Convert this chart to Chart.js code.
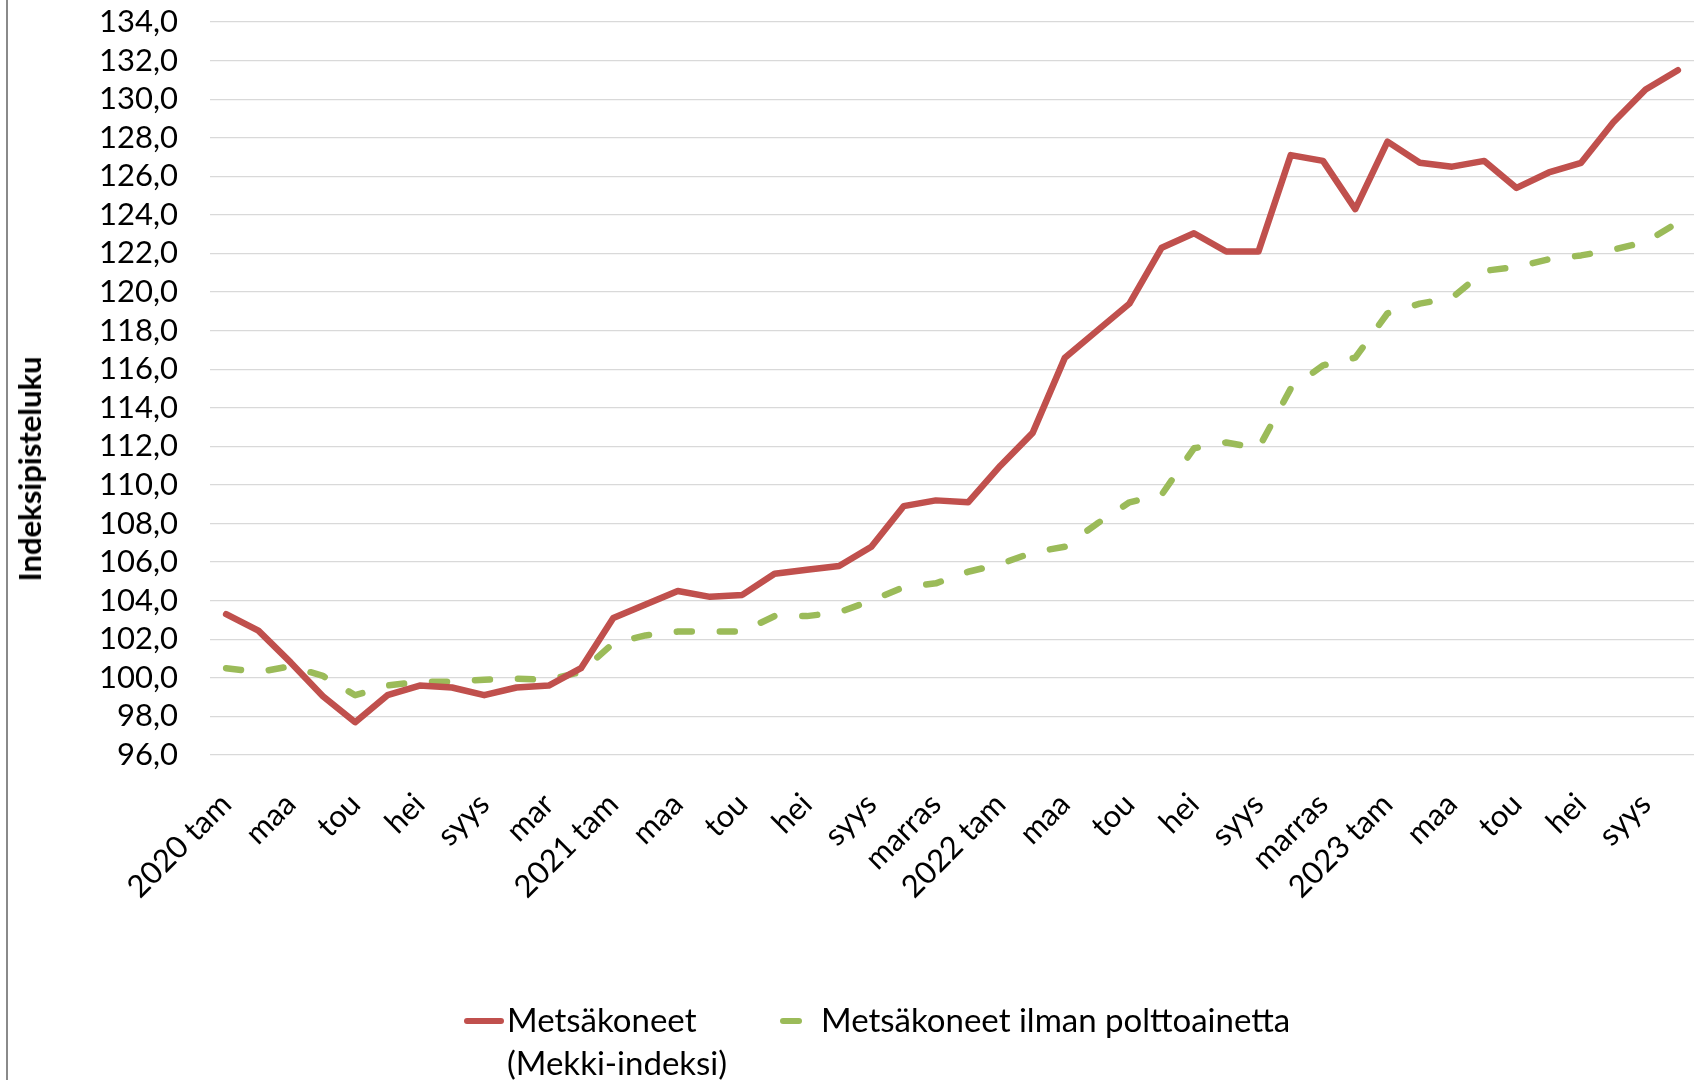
<!DOCTYPE html>
<html>
<head>
<meta charset="utf-8">
<script src="https://cdn.jsdelivr.net/npm/chart.js@4.4.1/dist/chart.umd.min.js"></script>
<style>
  html, body { margin: 0; padding: 0; background: #fff; }
  #wrap { position: relative; width: 1701px; height: 1080px; overflow: hidden; background: #fff; font-family: Lato, "Open Sans", sans-serif; }
  #c { position: absolute; left: 0; top: 0; }
  #border { position: absolute; left: 6px; top: 0; width: 1.5px; height: 1080px; background: #8a8a8a; }
  #ytitle { position: absolute; left: 29px; top: 469px; transform: translate(-50%, -50%) rotate(-90deg); font-weight: bold; font-size: 31px; color: #000; white-space: nowrap; }
  .leg { position: absolute; font-size: 33px; color: #000; line-height: 43px; white-space: nowrap; }
  .mk { position: absolute; height: 6px; border-radius: 3px; }
</style>
</head>
<body>
<div id="wrap">
  <canvas id="c" width="1701" height="1080"></canvas>
  <div id="border"></div>
  <div id="ytitle">Indeksipisteluku</div>
  <div class="mk" id="mk1" style="left:464px; top:1018px; width:40px; background:#C0504D;"></div>
  <div class="leg" id="lg1" style="left:507px; top:998px;">Metsäkoneet<br>(Mekki-indeksi)</div>
  <div class="mk" id="mk2" style="left:780px; top:1018px; width:22px; background:#9BBB59;"></div>
  <div class="leg" id="lg2" style="left:821px; top:998px;">Metsäkoneet ilman polttoainetta</div>
</div>
<script>
const categories = [
  '2020 tam','hel','maa','huh','tou','kes','hei','elo','syys','loka','mar','joulu',
  '2021 tam','hel','maa','huh','tou','kes','hei','elo','syys','loka','marras','joulu',
  '2022 tam','hel','maa','huh','tou','kes','hei','elo','syys','loka','marras','joulu',
  '2023 tam','hel','maa','huh','tou','kes','hei','elo','syys','loka'
];
const seriesNames = ['Metsäkoneet (Mekki-indeksi)', 'Metsäkoneet ilman polttoainetta'];
const mekki = [
  103.3, 102.45, 100.8, 99.05, 97.7, 99.1, 99.6, 99.5, 99.1, 99.5, 99.6, 100.5,
  103.1, 103.8, 104.5, 104.2, 104.3, 105.4, 105.6, 105.8, 106.8, 108.9, 109.2, 109.1,
  111.0, 112.7, 116.6, 118.0, 119.4, 122.3, 123.05, 122.1, 122.1, 127.1, 126.8, 124.3,
  127.8, 126.7, 126.5, 126.8, 125.4, 126.2, 126.7, 128.8, 130.5, 131.5
];
const ilmanPolttoainetta = [
  100.5, 100.3, 100.6, 100.1, 99.1, 99.6, 99.8, 99.8, 99.9, 99.95, 99.9, 100.3,
  101.8, 102.2, 102.4, 102.4, 102.4, 103.2, 103.2, 103.4, 104.0, 104.7, 104.9, 105.5,
  105.9, 106.5, 106.8, 108.0, 109.1, 109.5, 111.9, 112.2, 111.9, 115.0, 116.2, 116.6,
  118.9, 119.4, 119.7, 121.1, 121.3, 121.7, 121.9, 122.2, 122.6, 123.6
];
const yMin = 96, yMax = 134, yStep = 2;

const FONT = 'Lato, "Open Sans", sans-serif';

new Chart(document.getElementById('c'), {
  type: 'line',
  data: {
    labels: categories,
    datasets: [
      {
        label: seriesNames[0],
        data: mekki,
        borderColor: '#C0504D',
        backgroundColor: '#C0504D',
        borderWidth: 6.5,
        pointRadius: 0,
        tension: 0,
        borderCapStyle: 'round',
        borderJoinStyle: 'round'
      },
      {
        label: seriesNames[1],
        data: ilmanPolttoainetta,
        borderColor: '#9BBB59',
        backgroundColor: '#9BBB59',
        borderWidth: 6.5,
        borderDash: [15, 28],
        pointRadius: 0,
        tension: 0,
        borderCapStyle: 'round',
        borderJoinStyle: 'round'
      }
    ]
  },
  options: {
    responsive: false,
    animation: false,
    devicePixelRatio: 1,
    layout: { padding: { left: 0, right: 7, top: 22, bottom: 0 } },
    plugins: { legend: { display: false }, tooltip: { enabled: false } },
    scales: {
      x: {
        offset: true,
        grid: { display: false, drawTicks: false },
        border: { display: false },
        ticks: {
          autoSkip: false,
          maxRotation: 45,
          minRotation: 45,
          padding: 31,
          color: '#000',
          font: { family: FONT, size: 31 },
          callback: function(value, index) { return index % 2 === 0 ? this.getLabelForValue(value) : ''; }
        },
        afterFit: function(scale) { scale.height = 325; scale.paddingLeft = 0; scale.paddingRight = 0; }
      },
      y: {
        min: yMin,
        max: yMax,
        grid: { color: '#D9D9D9', lineWidth: 1.3, drawTicks: false },
        border: { display: false },
        ticks: {
          autoSkip: false,
          stepSize: yStep,
          padding: 32,
          color: '#000',
          font: { family: FONT, size: 31 },
          callback: (v) => v.toFixed(1).replace('.', ',')
        },
        afterFit: function(scale) { scale.width = 210; scale.paddingTop = 0; scale.paddingBottom = 0; }
      }
    }
  }
});
</script>
</body>
</html>
